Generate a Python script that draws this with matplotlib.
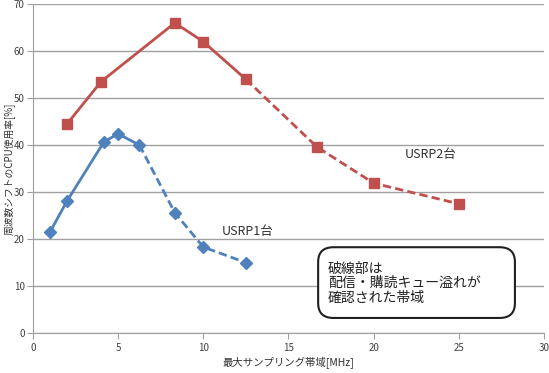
import matplotlib.pyplot as plt
from matplotlib.patches import FancyBboxPatch

plt.rcParams['font.family'] = ['Noto Sans CJK JP', 'DejaVu Sans']

# USRP 1 unit
x1 = [1, 2, 4.17, 5, 6.25, 8.33, 10, 12.5]
y1 = [21.5, 28.1, 40.7, 42.4, 40.0, 25.6, 18.3, 15.0]
solid1 = 5  # first n points drawn solid

# USRP 2 units
x2 = [2, 4, 8.33, 10, 12.5, 16.67, 20, 25]
y2 = [44.5, 53.5, 66.0, 62.0, 54.0, 39.6, 31.9, 27.5]
solid2 = 5

blue = '#4F81BD'
red = '#C0504D'

fig = plt.figure(figsize=(5.49, 3.73), dpi=100)
ax = fig.add_axes([0.060, 0.107, 0.931, 0.882])

# solid part, dashed part (overflow region)
ax.plot(x1[:solid1], y1[:solid1], color=blue, lw=2, marker='D', ms=6)
ax.plot(x1[solid1 - 1:], y1[solid1 - 1:], color=blue, lw=2, ls=(0, (3, 1.5)),
        marker='D', ms=6, markevery=list(range(1, len(x1) - solid1 + 1)))
ax.plot(x2[:solid2], y2[:solid2], color=red, lw=2, marker='s', ms=7.5)
ax.plot(x2[solid2 - 1:], y2[solid2 - 1:], color=red, lw=2, ls=(0, (3, 1.5)),
        marker='s', ms=7.5, markevery=list(range(1, len(x2) - solid2 + 1)))

ax.set_xlim(0, 30)
ax.set_ylim(0, 70)
ax.set_xticks(range(0, 31, 5))
ax.set_yticks(range(0, 71, 10))
ax.yaxis.grid(True, color='#a0a0a0', lw=1)
ax.set_axisbelow(True)
for s in ['top', 'right']:
    ax.spines[s].set_visible(False)
for s in ['left', 'bottom']:
    ax.spines[s].set_color('#a0a0a0')
ax.tick_params(colors='#a0a0a0', labelcolor='#404040', labelsize=7, length=4)
ax.tick_params(axis='x', pad=3)
ax.tick_params(axis='y', pad=2)

ax.set_xlabel('最大サンプリング帯域[MHz]', fontsize=7.5, color='#303030', labelpad=3)
ax.set_ylabel('周波数シフトのCPU使用率[%]', fontsize=7, color='#303030')
ax.yaxis.set_label_coords(-0.036, 0.5)

ax.text(21.8, 37.9, 'USRP2台', fontsize=9, color='#303030', va='center')
ax.text(11.1, 21.7, 'USRP1台', fontsize=9, color='#303030', va='center')

box = FancyBboxPatch((0.558, 0.046), 0.385, 0.215, transform=ax.transAxes,
                     boxstyle='round,pad=0,rounding_size=0.03',
                     fc='white', ec='#202020', lw=1.5, mutation_aspect=1.5)
ax.add_patch(box)
ax.text(0.577, 0.152, '破線部は\n配信・購読キュー溢れが\n確認された帯域', transform=ax.transAxes,
        fontsize=10, color='#202020', va='center', ha='left', linespacing=1.05)

fig.savefig('out.png', dpi=100)
